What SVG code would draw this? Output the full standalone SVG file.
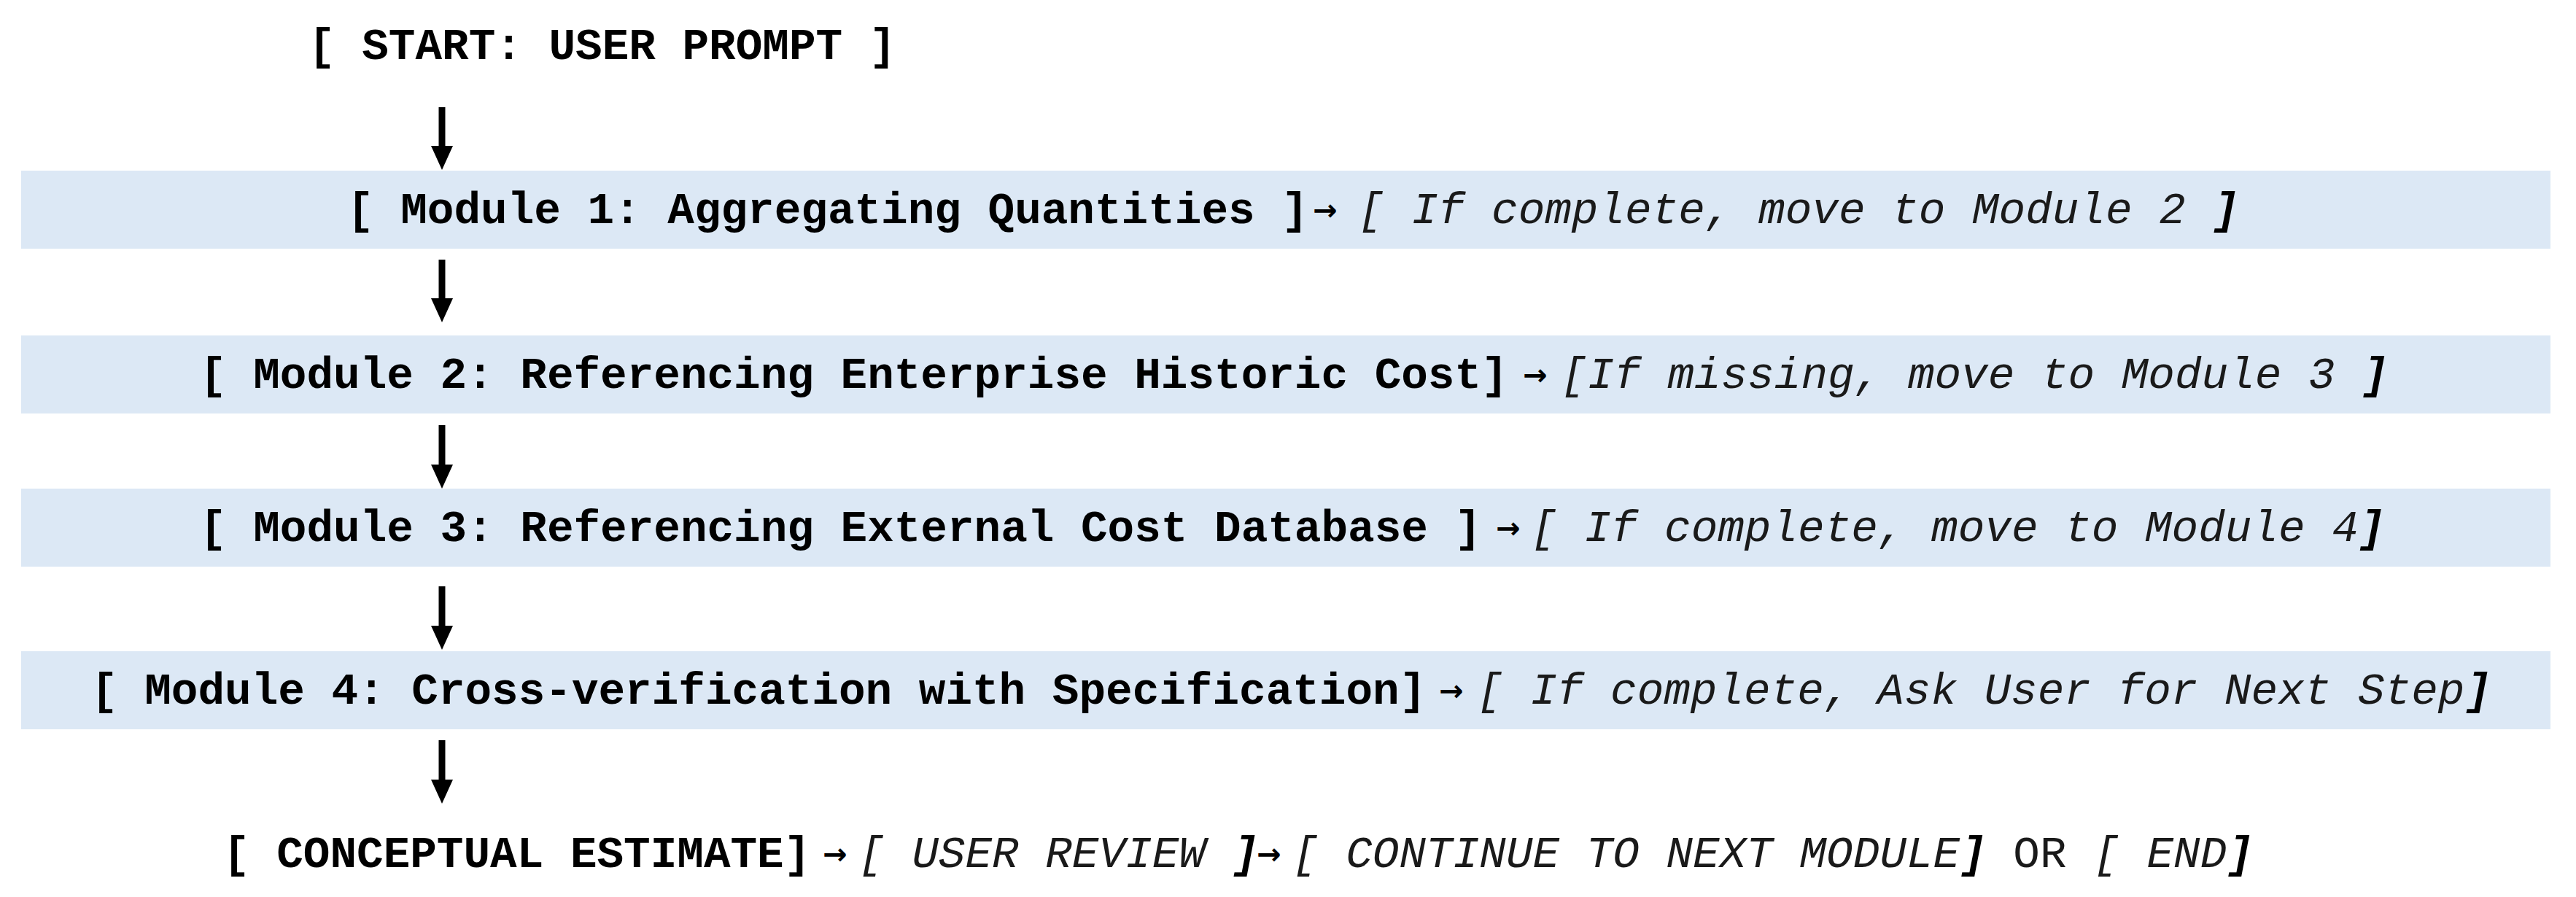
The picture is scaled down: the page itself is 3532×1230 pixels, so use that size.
<svg xmlns="http://www.w3.org/2000/svg" width="3532" height="1230" viewBox="0 0 3532 1230" xml:space="preserve">
<defs>
<style>
.band { fill: #DCE8F5; }
.t { font-family: "Liberation Mono", "Courier New", monospace; font-size: 61px; white-space: pre; }
.b { font-weight: bold; fill: #000000; }
.i { font-style: italic; font-weight: normal; fill: #1a1a1a; }
.bi { font-style: italic; font-weight: bold; fill: #000000; }
.r { font-style: normal; font-weight: normal; fill: #1a1a1a; }
.arr { font-family: "DejaVu Sans", "Liberation Sans", sans-serif; font-size: 40px; font-weight: bold; fill: #000000; text-anchor: middle; }
.conn { stroke: #000000; stroke-width: 9; fill: none; marker-end: url(#head); }
</style>
<marker id="head" markerUnits="userSpaceOnUse" viewBox="0 0 33 30" markerWidth="33" markerHeight="30" refX="3" refY="15" orient="auto">
<path d="M0,0 L33,15 L0,30 Z" fill="#000000"/>
</marker>
</defs>
<rect width="3532" height="1230" fill="#ffffff"/>

<g id="start">
<text class="t b" x="423" y="81">[ START: USER PROMPT ]</text>
</g>

<g id="module1">
<rect class="band" x="29" y="234" width="3468" height="107"/>
<text class="t b" x="476" y="306">[ Module 1: Aggregating Quantities ]</text>
<text class="arr" x="1817" y="302">→</text>
<text class="t i" x="1862" y="306">[ If complete, move to Module 2 <tspan class="bi">]</tspan></text>
</g>

<g id="module2">
<rect class="band" x="29" y="460" width="3468" height="107"/>
<text class="t b" x="274" y="532">[ Module 2: Referencing Enterprise Historic Cost]</text>
<text class="arr" x="2105" y="528">→</text>
<text class="t i" x="2140" y="532">[If missing, move to Module 3 <tspan class="bi">]</tspan></text>
</g>

<g id="module3">
<rect class="band" x="29" y="670" width="3468" height="107"/>
<text class="t b" x="274" y="742">[ Module 3: Referencing External Cost Database ]</text>
<text class="arr" x="2068" y="738">→</text>
<text class="t i" x="2099" y="742">[ If complete, move to Module 4<tspan class="bi">]</tspan></text>
</g>

<g id="module4">
<rect class="band" x="29" y="893" width="3468" height="107"/>
<text class="t b" x="125" y="965">[ Module 4: Cross-verification with Specification]</text>
<text class="arr" x="1990" y="961">→</text>
<text class="t i" x="2025" y="965">[ If complete, Ask User for Next Step<tspan class="bi">]</tspan></text>
</g>

<g id="estimate">
<text class="t b" x="306" y="1189">[ CONCEPTUAL ESTIMATE]</text>
<text class="arr" x="1145" y="1185">→</text>
<text class="t i" x="1177" y="1189">[ USER REVIEW <tspan class="bi">]</tspan></text>
<text class="arr" x="1740" y="1185">→</text>
<text class="t i" x="1772" y="1189">[ CONTINUE TO NEXT MODULE<tspan class="bi">]</tspan><tspan class="r"> OR </tspan>[ END<tspan class="bi">]</tspan></text>
</g>

<g id="connectors">
<line class="conn" x1="606" y1="147" x2="606" y2="203"/>
<line class="conn" x1="606" y1="356" x2="606" y2="412"/>
<line class="conn" x1="606" y1="583" x2="606" y2="640"/>
<line class="conn" x1="606" y1="804" x2="606" y2="861"/>
<line class="conn" x1="606" y1="1015" x2="606" y2="1072"/>
</g>
</svg>
